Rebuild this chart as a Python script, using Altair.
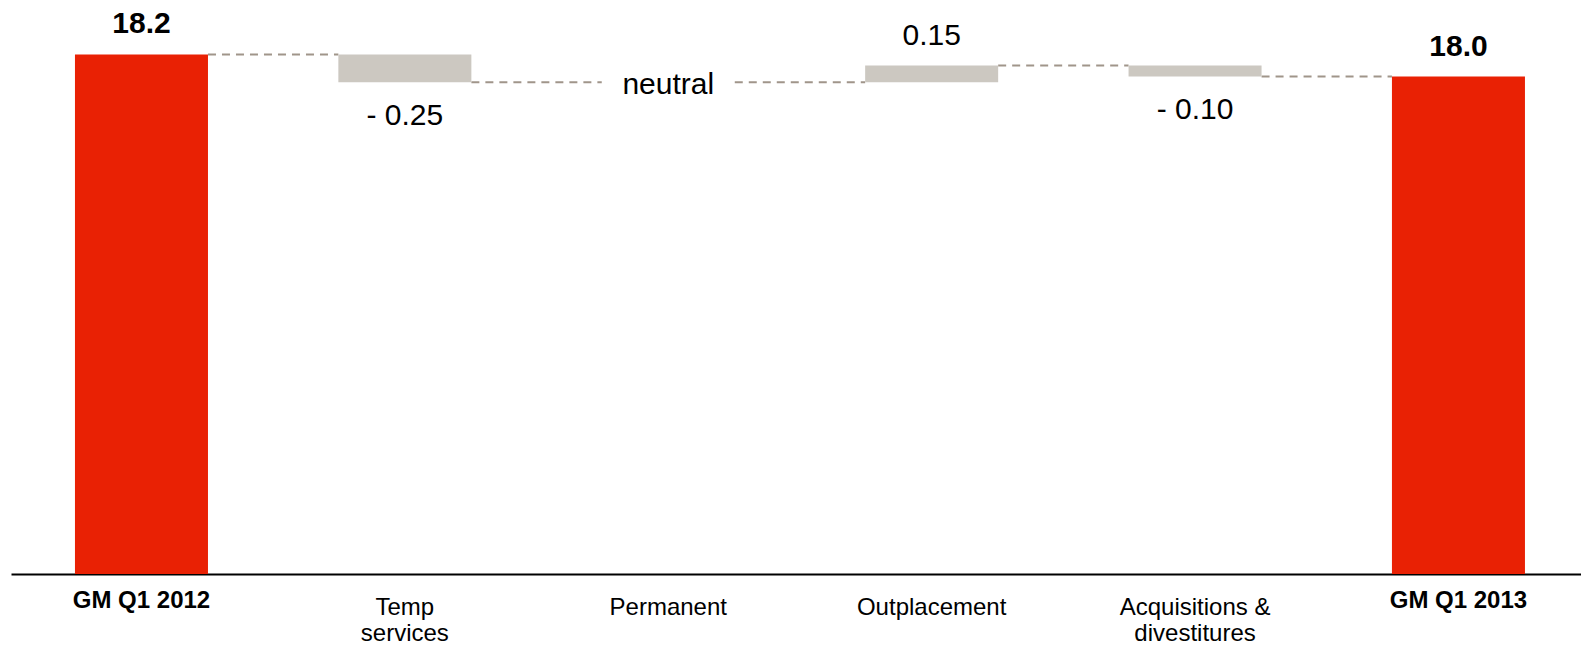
import altair as alt
import pandas as pd

# ---- data -------------------------------------------------------------
categories = ["GM Q1 2012", "Temp services", "Permanent", "Outplacement",
              "Acquisitions & divestitures", "GM Q1 2013"]
values = [18.2, -0.25, 0.0, 0.15, -0.10, 18.0]
kinds = ["total", "delta", "delta", "delta", "delta", "total"]
value_labels = ["18.2", "- 0.25", "neutral", "0.15", "- 0.10", "18.0"]
axis_label_lines = {
    "Temp services": ["Temp", "services"],
    "Acquisitions & divestitures": ["Acquisitions &", "divestitures"],
}

Y_MIN, Y_MAX = 13.52, 18.6

# ---- waterfall table ----------------------------------------------------
rows = []
running = 0.0
for c, v, k, lab in zip(categories, values, kinds, value_labels):
    if k == "total":
        start, end = Y_MIN, v
    else:
        start, end = running, running + v
    end = round(end, 4)
    running = end
    if k == "total":
        pos = "total"
    elif v > 0:
        pos = "above"
    elif v < 0:
        pos = "below"
    else:
        pos = "zero"
    rows.append({"cat": c, "value": v, "kind": k, "start": start, "end": end,
                 "label": lab, "pos": pos})
df = pd.DataFrame(rows)

conn = pd.DataFrame([
    {"cat": categories[i], "next_cat": categories[i + 1], "level": rows[i]["end"]}
    for i in range(len(categories) - 1)
])

RED = "#E92104"
GRAY = "#CCC8C1"
DASH = "#A0958A"
FONT = "Liberation Sans"

y_scale = alt.Scale(domain=[Y_MIN, Y_MAX], zero=False, nice=False)
x_scale = alt.Scale(domain=categories, paddingInner=0.495, paddingOuter=0.2278, align=0.533)

label_expr = " : ".join(
    [f"datum.value == '{k}' ? {v!r}" for k, v in axis_label_lines.items()]
) + " : datum.label"

x_axis = alt.Axis(
    title=None, labelAngle=0, ticks=False, tickSize=0, grid=False,
    domainColor="#000000", domainWidth=2,
    labelFont=FONT, labelFontSize=24, labelColor="#000000", labelLimit=400,
    labelLineHeight=26, labelBaseline="top",
    labelExpr=label_expr,
    labelFontWeight={"condition": {"test": "indexof(datum.value, 'GM') == 0", "value": "bold"},
                     "value": "normal"},
    labelPadding={"condition": {"test": "indexof(datum.value, 'GM') == 0", "value": 14.5},
                  "value": 21},
)

x_enc = alt.X("cat:N", sort=categories, scale=x_scale, axis=x_axis)

base = alt.Chart(df)

bars = base.transform_filter("datum.value != 0").mark_bar().encode(
    x=x_enc,
    y=alt.Y("start:Q", scale=y_scale, axis=None),
    y2="end:Q",
    color=alt.Color("kind:N", scale=alt.Scale(domain=["total", "delta"], range=[RED, GRAY]),
                    legend=None),
)

connectors = alt.Chart(conn).mark_rule(strokeDash=[8, 6], color=DASH, strokeWidth=2).encode(
    x=alt.X("cat:N", sort=categories, scale=x_scale, axis=x_axis, bandPosition=1),
    x2=alt.X2("next_cat", bandPosition=0),
    y=alt.Y("level:Q", scale=y_scale, axis=None),
)

def text_layer(pos, dy, weight):
    return base.transform_filter(f"datum.pos == '{pos}'").mark_text(
        font=FONT, fontSize=30, fontWeight=weight, baseline="alphabetic",
        align="center", dy=dy, color="#000000",
    ).encode(
        x=x_enc,
        y=alt.Y("end:Q", scale=y_scale, axis=None),
        text="label:N",
    )

chart = alt.layer(
    connectors,
    bars,
    text_layer("total", -21, "bold"),
    text_layer("above", -21, "normal"),
    text_layer("below", 42.6, "normal"),
    text_layer("zero", 12, "normal"),
).properties(
    width=1570,
    height=564,
    background="#ffffff",
    autosize=alt.AutoSizeParams(type="none"),
    padding={"left": 3, "top": 2, "right": 0, "bottom": 72},
).configure_view(strokeWidth=0, stroke="transparent")

chart.save("out.html", embed_options={"renderer": "svg", "actions": False})
